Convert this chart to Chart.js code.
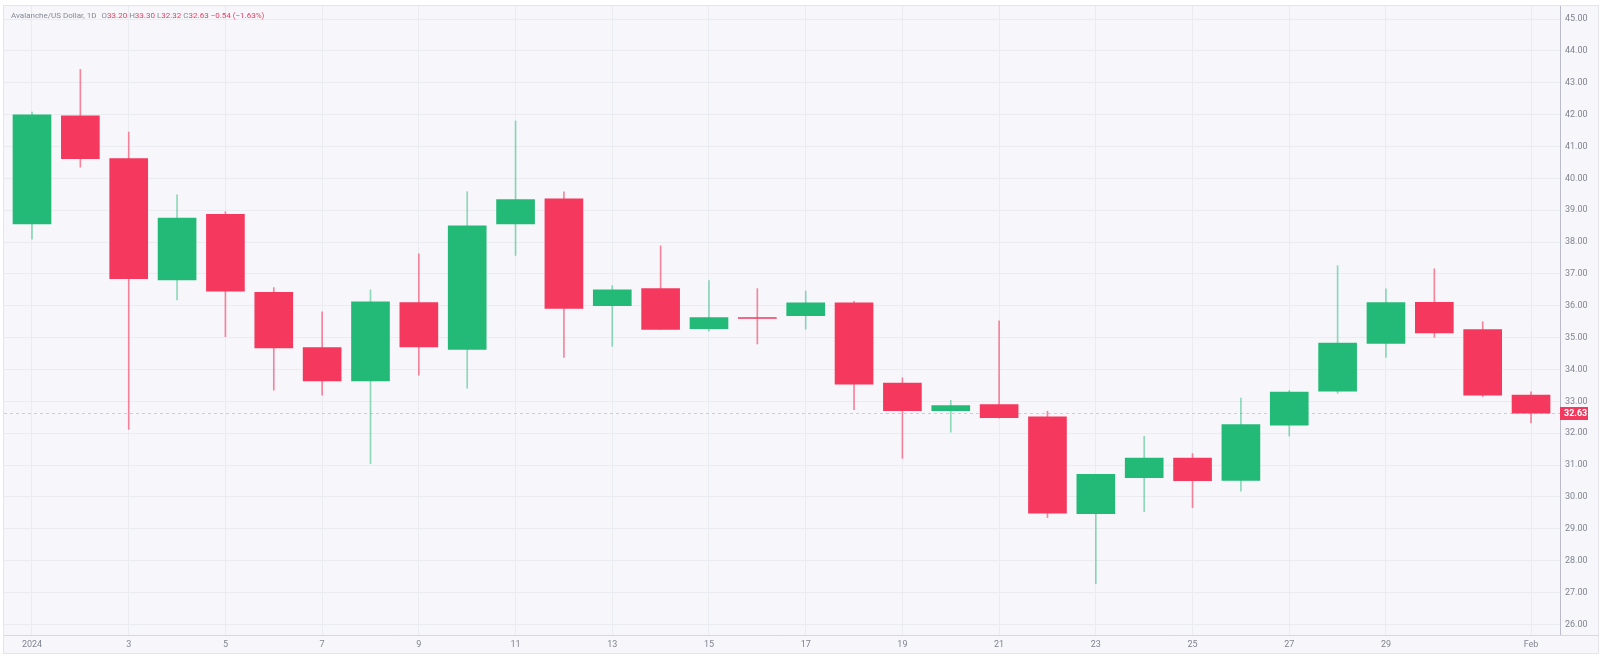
<!DOCTYPE html>
<html>
<head>
<meta charset="utf-8">
<script src="https://cdn.jsdelivr.net/npm/chart.js@4.4.1/dist/chart.umd.min.js"></script>
<style>
  html, body { margin: 0; padding: 0; background: #ffffff; }
  #frame {
    position: absolute; left: 3px; top: 5px; width: 1596px; height: 649px;
    border: 1px solid #e3e4ec; box-sizing: border-box; background: #f7f7fb;
  }
  #wrap { position: absolute; left: 4px; top: 6px; width: 1594px; height: 647px; }
  #title {
    position: absolute; left: 11px; top: 10px; font-family: Roboto, sans-serif;
    font-size: 8px; color: #858895; white-space: pre; line-height: 11px;
  }
  #title .r { color: #f4395f; }
  #title .g { margin-left: 3px; }
</style>
</head>
<body>
<div id="frame"></div>
<div id="wrap"><canvas id="chart"></canvas></div>
<div id="title">Avalanche/US Dollar, 1D <span class="g">O</span><span class="r">33.20</span> H<span class="r">33.30</span> L<span class="r">32.32</span> C<span class="r">32.63</span> <span class="r">−0.54 (−1.63%)</span></div>
<script>
// Data (AVAX/USD daily, January 2024 + Feb 1)
const days = [1, 2, 3, 4, 5, 6, 7, 8, 9, 10, 11, 12, 13, 14, 15, 16,
  17, 18, 19, 20, 21, 22, 23, 24, 25, 26, 27, 28, 29, 30, 31, 32];
const opens = [38.57, 41.96, 40.62, 36.81, 38.87, 36.42, 34.69, 33.64, 36.10, 34.63, 38.57, 39.36, 36.00, 36.54, 35.28, 35.63,
  35.69, 36.09, 33.57, 32.71, 32.90, 32.51, 29.47, 30.60, 31.22, 30.52, 32.25, 33.32, 34.82, 36.11, 35.25, 33.20];
const highs = [42.08, 43.42, 41.45, 39.48, 38.95, 36.57, 35.81, 36.50, 37.63, 39.58, 41.80, 39.58, 36.63, 37.88, 36.79, 36.54,
  36.46, 36.14, 33.74, 33.03, 35.53, 32.69, 30.71, 31.90, 31.36, 33.10, 33.34, 37.26, 36.53, 37.16, 35.50, 33.30];
const lows = [38.09, 40.35, 32.12, 36.18, 35.03, 33.35, 33.19, 31.04, 33.82, 33.41, 37.58, 34.38, 34.73, 35.26, 35.20, 34.80,
  35.27, 32.74, 31.21, 32.03, 32.47, 29.35, 27.28, 29.54, 29.66, 30.18, 31.91, 33.25, 34.38, 35.01, 33.15, 32.32];
const closes = [41.99, 40.62, 36.85, 38.75, 36.46, 34.68, 33.64, 36.12, 34.71, 38.51, 39.33, 35.92, 36.50, 35.26, 35.63, 35.60,
  36.09, 33.54, 32.71, 32.87, 32.49, 29.49, 30.71, 31.22, 30.51, 32.27, 33.29, 34.83, 36.10, 35.15, 33.19, 32.63];
const tickDays = [1, 3, 5, 7, 9, 11, 13, 15, 17, 19, 21, 23, 25, 27, 29, 32];
const tickLabels = ['2024', '3', '5', '7', '9', '11', '13', '15', '17', '19', '21', '23', '25', '27', '29', 'Feb'];
const lastPrice = 32.63;

const upColor = '#23ba77';
const downColor = '#f5385e';
const upWick = 'rgba(35,186,119,0.5)';
const downWick = 'rgba(245,56,94,0.6)';
const textColor = '#80838f';
const gridColor = '#ebebf2';

const isUp = days.map((d, i) => closes[i] >= opens[i]);

// current price line + label on the price scale
const priceLine = {
  id: 'priceLine',
  beforeDatasetsDraw(chart) {
    const { ctx, chartArea, scales } = chart;
    const y = Math.round(scales.y.getPixelForValue(lastPrice)) + 0.5;
    ctx.save();
    ctx.strokeStyle = '#f8b8c6';
    ctx.lineWidth = 1;
    ctx.setLineDash([3, 3]);
    ctx.beginPath();
    ctx.moveTo(chartArea.left, y);
    ctx.lineTo(chartArea.right, y);
    ctx.stroke();
    ctx.restore();
  },
  afterDraw(chart) {
    const { ctx, chartArea, scales } = chart;
    const y = scales.y.getPixelForValue(lastPrice);
    ctx.save();
    ctx.fillStyle = '#f4395f';
    ctx.fillRect(chartArea.right, Math.round(y) - 6, 28, 13);
    ctx.fillStyle = '#ffffff';
    ctx.font = 'bold 9px Roboto';
    ctx.textAlign = 'left';
    ctx.textBaseline = 'middle';
    ctx.fillText(lastPrice.toFixed(2), chartArea.right + 4, Math.round(y) + 0.5);
    // separator under the price scale
    ctx.fillStyle = '#d6d7e0';
    ctx.fillRect(chartArea.right, chartArea.bottom, chart.width - chartArea.right, 1);
    ctx.restore();
  }
};

const ctx = document.getElementById('chart').getContext('2d');
const chart = new Chart(ctx, {
  type: 'bar',
  data: {
    datasets: [
      {
        label: 'body',
        data: days.map((d, i) => ({ x: d, y: [opens[i], closes[i]] })),
        backgroundColor: isUp.map(u => u ? upColor : downColor),
        barThickness: 38,
        minBarLength: 1,
        grouped: false,
        order: 0
      },
      {
        label: 'wick',
        data: days.map((d, i) => ({ x: d, y: [lows[i], highs[i]] })),
        backgroundColor: isUp.map(u => u ? upWick : downWick),
        barThickness: 1,
        grouped: false,
        order: 1
      }
    ]
  },
  options: {
    responsive: true,
    maintainAspectRatio: false,
    animation: false,
    layout: { padding: 0 },
    plugins: { legend: { display: false }, tooltip: { enabled: false } },
    scales: {
      x: {
        type: 'linear',
        offset: false,
        min: 0.421,
        max: 32.599,
        afterBuildTicks(scale) { scale.ticks = tickDays.map(v => ({ value: v })); },
        afterFit(scale) { scale.height = 18; scale.paddingLeft = 0; scale.paddingRight = 0; },
        ticks: {
          autoSkip: false, maxRotation: 0, padding: 4, color: textColor,
          font: { family: 'Roboto', size: 9 },
          callback: (v) => tickLabels[tickDays.indexOf(v)]
        },
        grid: { color: gridColor, drawTicks: false, offset: false },
        border: { display: true, color: '#d6d7e0' }
      },
      y: {
        position: 'right',
        min: 25.665,
        max: 45.41,
        afterFit(scale) { scale.width = 38; scale.paddingTop = 0; scale.paddingBottom = 0; },
        ticks: {
          stepSize: 1, includeBounds: false, padding: 5, color: textColor,
          font: { family: 'Roboto', size: 9 },
          callback: (v) => v.toFixed(2)
        },
        grid: { color: gridColor, drawTicks: false },
        border: { display: true, color: '#b9bbc8' }
      }
    }
  },
  plugins: [priceLine]
});
</script>
</body>
</html>
